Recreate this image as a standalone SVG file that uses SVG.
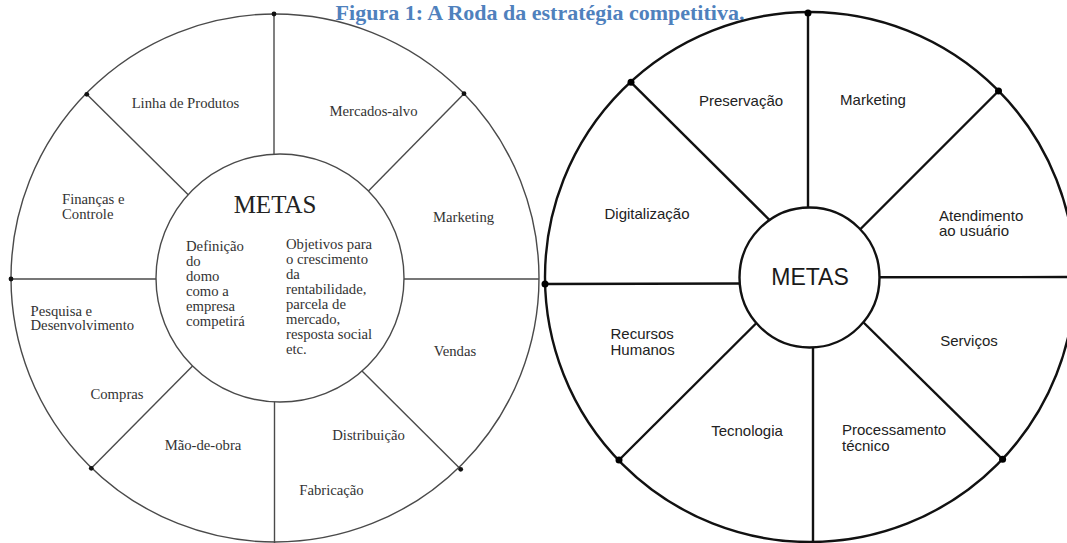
<svg xmlns="http://www.w3.org/2000/svg" width="1067" height="543" viewBox="0 0 1067 543">
<style>
.bg{fill:#ffffff}
.lw{fill:none;stroke:#4a4a4a;stroke-width:1.4}
.lhub{fill:#ffffff;stroke:#4a4a4a;stroke-width:1.4}
.rw{fill:none;stroke:#111111;stroke-width:2.4}
.rhub{fill:#ffffff;stroke:#111111;stroke-width:2.4}
.ldot{fill:#111111}
.rdot{fill:#000000}
.lt{font-family:"Liberation Serif","Times New Roman",serif;font-size:14.7px;fill:#333333}
.lm{font-family:"Liberation Serif","Times New Roman",serif;font-size:25px;fill:#222222}
.rt{font-family:"Liberation Sans",Arial,sans-serif;font-size:15px;fill:#222222}
.rm{font-family:"Liberation Sans",Arial,sans-serif;font-size:23px;fill:#1a1a1a}
.title{font-family:"Liberation Serif","Times New Roman",serif;font-size:22px;font-weight:bold;fill:#4f81bd}
.c{text-anchor:middle}
</style>
<rect class="bg" x="0" y="0" width="1067" height="543"/>
<text class="title c" x="540" y="20">Figura 1: A Roda da estratégia competitiva.</text>

<g id="left-wheel">
<circle class="lw" cx="275" cy="278" r="264"/>
</g>
<g id="right-wheel">
<circle class="rw" cx="810" cy="277" r="265"/>
</g>

<g id="connectors">
<g id="left-spokes">
<line class="lw" x1="274" y1="14" x2="274" y2="160"/>
<line class="lw" x1="274.5" y1="396" x2="274.5" y2="543"/>
<line class="lw" x1="11" y1="279" x2="162" y2="279"/>
<line class="lw" x1="398" y1="279" x2="539" y2="279"/>
<line class="lw" x1="86.8" y1="94.3" x2="192" y2="198.5"/>
<line class="lw" x1="464" y1="93.7" x2="365" y2="194.5"/>
<line class="lw" x1="91.3" y1="468.3" x2="196.5" y2="362"/>
<line class="lw" x1="460.7" y1="469.3" x2="358" y2="367"/>
</g>
<g id="right-spokes">
<line class="rw" x1="808" y1="13" x2="808" y2="213"/>
<line class="rw" x1="813" y1="541" x2="813" y2="342"/>
<line class="rw" x1="545" y1="284" x2="745" y2="283.5"/>
<line class="rw" x1="874" y1="277.3" x2="1067" y2="277"/>
<line class="rw" x1="631" y1="82.3" x2="774" y2="224.5"/>
<line class="rw" x1="998.5" y1="91" x2="856" y2="233.5"/>
<line class="rw" x1="619" y1="460" x2="761" y2="318.5"/>
<line class="rw" x1="1002.6" y1="459.3" x2="859" y2="318"/>
</g>
<g id="dots">
<circle class="ldot" cx="274" cy="14" r="2.4"/>
<circle class="ldot" cx="11" cy="279" r="2.4"/>
<circle class="ldot" cx="86.8" cy="94.3" r="2.4"/>
<circle class="ldot" cx="464" cy="93.7" r="2.4"/>
<circle class="ldot" cx="91.3" cy="468.3" r="2.4"/>
<circle class="ldot" cx="460.7" cy="469.3" r="2.4"/>
<circle class="rdot" cx="808" cy="13" r="3.5"/>
<circle class="rdot" cx="545" cy="284" r="3.5"/>
<circle class="rdot" cx="631" cy="82.3" r="3.5"/>
<circle class="rdot" cx="998.5" cy="91" r="3.5"/>
<circle class="rdot" cx="619" cy="460" r="3.5"/>
<circle class="rdot" cx="1002.6" cy="459.3" r="3.5"/>
</g>
</g>

<g id="left-hub">
<circle class="lhub" cx="280" cy="278" r="124"/>
<text class="lm c" x="275" y="213">METAS</text>
<text class="lt" x="186" y="250.5"><tspan x="186">Definição</tspan><tspan x="186" dy="15">do</tspan><tspan x="186" dy="15">domo</tspan><tspan x="186" dy="15">como a</tspan><tspan x="186" dy="15">empresa</tspan><tspan x="186" dy="15">competirá</tspan></text>
<text class="lt" x="286" y="249"><tspan x="286">Objetivos para</tspan><tspan x="286" dy="15">o crescimento</tspan><tspan x="286" dy="15">da</tspan><tspan x="286" dy="15">rentabilidade,</tspan><tspan x="286" dy="15">parcela de</tspan><tspan x="286" dy="15">mercado,</tspan><tspan x="286" dy="15">resposta social</tspan><tspan x="286" dy="15">etc.</tspan></text>
</g>
<g id="l-linha"><text class="lt c" x="185.5" y="107.5">Linha de Produtos</text></g>
<g id="l-mercados"><text class="lt c" x="373.5" y="116">Mercados-alvo</text></g>
<g id="l-financas"><text class="lt" x="62" y="204"><tspan x="62">Finanças e</tspan><tspan x="62" dy="15">Controle</tspan></text></g>
<g id="l-marketing"><text class="lt c" x="463.5" y="222">Marketing</text></g>
<g id="l-pesquisa"><text class="lt" x="30.5" y="315.5"><tspan x="30.5">Pesquisa e</tspan><tspan x="30.5" dy="14.5">Desenvolvimento</tspan></text></g>
<g id="l-vendas"><text class="lt c" x="455" y="356">Vendas</text></g>
<g id="l-compras"><text class="lt c" x="117" y="399">Compras</text></g>
<g id="l-maodeobra"><text class="lt c" x="203" y="450">Mão-de-obra</text></g>
<g id="l-distribuicao"><text class="lt c" x="368.5" y="440">Distribuição</text></g>
<g id="l-fabricacao"><text class="lt c" x="331.5" y="495">Fabricação</text></g>

<g id="right-hub">
<circle class="rhub" cx="809.5" cy="277.5" r="70"/>
<text class="rm c" x="810" y="285">METAS</text>
</g>
<g id="r-preservacao"><text class="rt c" x="741" y="106">Preservação</text></g>
<g id="r-marketing"><text class="rt c" x="873" y="105">Marketing</text></g>
<g id="r-digitalizacao"><text class="rt c" x="647" y="219">Digitalização</text></g>
<g id="r-atendimento"><text class="rt" x="939" y="221"><tspan x="939">Atendimento</tspan><tspan x="939" dy="15">ao usuário</tspan></text></g>
<g id="r-recursos"><text class="rt" x="610.5" y="339"><tspan x="610.5">Recursos</tspan><tspan x="610.5" dy="16">Humanos</tspan></text></g>
<g id="r-servicos"><text class="rt c" x="969" y="346">Serviços</text></g>
<g id="r-tecnologia"><text class="rt c" x="747" y="436">Tecnologia</text></g>
<g id="r-processamento"><text class="rt" x="842" y="435"><tspan x="842">Processamento</tspan><tspan x="842" dy="16">técnico</tspan></text></g>
</svg>
